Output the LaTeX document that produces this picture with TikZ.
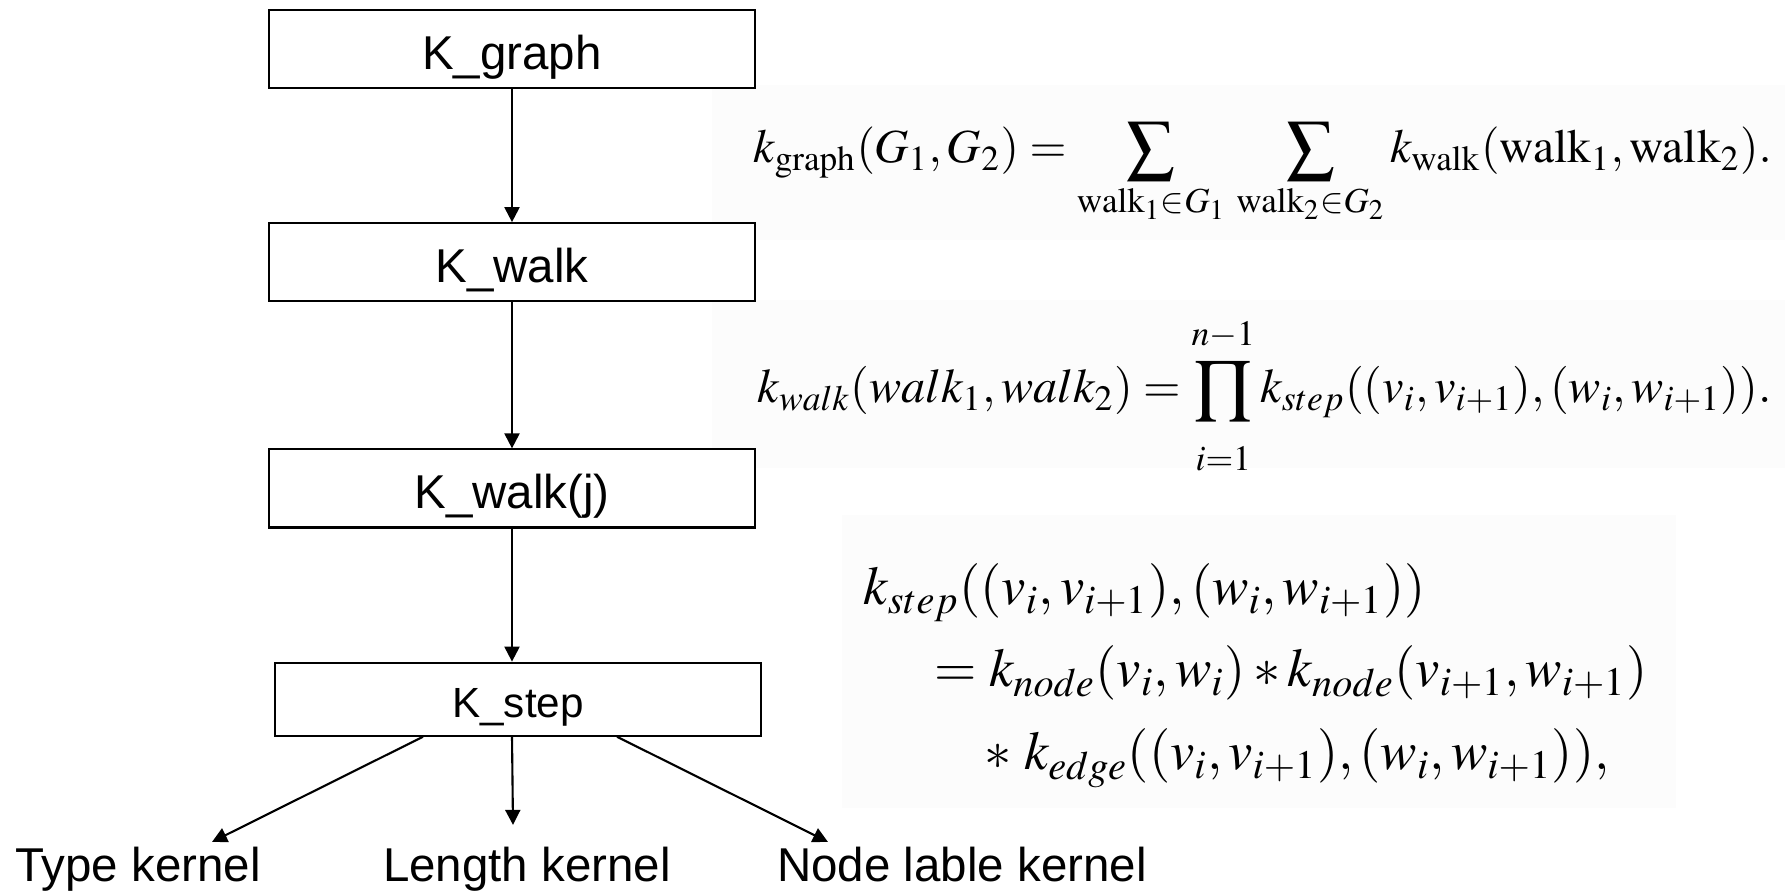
\documentclass[tikz,border=0pt]{standalone}
\usepackage{mathptmx}
\usepackage[no-math]{fontspec}
\setmainfont{Liberation Sans}
\usetikzlibrary{arrows.meta,positioning}
\tikzset{
    kbox/.style={rectangle, draw, line width=0.6pt, fill=white, minimum width=4.85cm, minimum height=0.78cm, text height=12pt, text depth=0.6pt, align=center, font=\fontsize{13.5}{16}\selectfont},
    leaf/.style={anchor=base, inner sep=0.5mm, font=\fontsize{13.5}{16}\selectfont},
    eqn/.style={anchor=base west, inner sep=0, font=\fontsize{13.7}{16}\selectfont},
    eqbg/.style={fill=black!1, draw=none},
    flow/.style={-{Triangle[length=1.5mm, width=1.5mm]}, line width=0.6pt},
}

\begin{document}
\begin{tikzpicture}[x=0.01cm, y=-0.01cm, node distance=1.33cm]
    \useasboundingbox (0,0) rectangle (1785,892);
    % faint grey behind the formulas
    \fill[eqbg] (712,85) rectangle (1785,240);
    \fill[eqbg] (712,300) rectangle (1785,468);
    \fill[eqbg] (842,515) rectangle (1676,808);

    \node[kbox] (kg) at (512,49) {K\_graph};
    \node[kbox, below=of kg] (kw) {K\_walk};
    \node[kbox, below=1.46cm of kw] (kj) {K\_walk(j)};
    \node[kbox, below=of kj, xshift=0.06cm, minimum height=0.73cm, text height=10.8pt, font=\fontsize{12}{14}\selectfont] (ks) {K\_step};

    \node[leaf] (tk) at (138,882) {Type kernel};
    \node[leaf] (lk) at (527,882) {Length kernel};
    \node[leaf] (nk) at (962,882) {Node lable kernel};

    \draw[flow] (kg) -- (kw);
    \draw[flow] (kw) -- (kj);
    \draw[flow] (kj.south) -- (kj.south |- ks.north);
    \draw[flow] ([xshift=-0.95cm]ks.south) -- ([xshift=0.74cm]tk.north);
    \draw[flow] (ks.south -| kj.south) -- ([xshift=-1.4mm, yshift=1.7mm]lk.north);
    \draw[flow] ([xshift=0.99cm]ks.south) -- ([xshift=-1.34cm]nk.north);

    % formulas
    \node[eqn, font=\fontsize{13.5}{16}\selectfont] (eqgraph) at (753,163) {$\displaystyle k_{\mathrm{graph}}(G_1,G_2)= \sum_{\mathrm{walk}_1\in G_1}\,\sum_{\mathrm{walk}_2\in G_2} k_{\mathrm{walk}}(\mathrm{walk}_1,\mathrm{walk}_2).$};
    \node[eqn] (eqwalk) at (757,403) {$\displaystyle k_{walk}(walk_1,walk_2)=\prod_{\rule{0pt}{12pt}i=1}^{\rule[-3pt]{0pt}{0pt}n-1}k_{step}((v_i,v_{i+1}),(w_i,w_{i+1})).$};
    \node[eqn, font=\fontsize{15.5}{18}\selectfont] (eqstepa) at (863,605) {$k_{step}((v_i,v_{i+1}),(w_i,w_{i+1}))$};
    \node[eqn, font=\fontsize{15.5}{18}\selectfont] (eqstepb) at (934,687) {$=k_{node}(v_i,w_i)*k_{node}(v_{i+1},w_{i+1})$};
    \node[eqn, font=\fontsize{15.5}{18}\selectfont] (eqstepc) at (984,770) {$*\;k_{edge}((v_i,v_{i+1}),(w_i,w_{i+1})),$};
\end{tikzpicture}
\end{document}
